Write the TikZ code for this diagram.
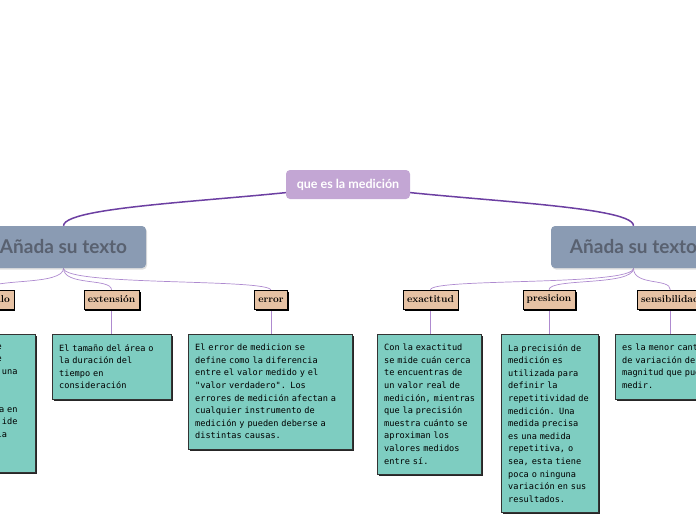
\documentclass[tikz,border=0pt]{standalone}
\usepackage{fontspec}
\newfontfamily\latofont{Lato}
\newfontfamily\pixfont{DejaVu Sans Mono}
\usepackage{xcolor}
\usetikzlibrary{positioning,shadows,backgrounds}
\definecolor{rootfill}{HTML}{C3A6D4}
\definecolor{topicfill}{HTML}{8A9BB3}
\definecolor{topictext}{HTML}{596170}
\definecolor{tagfill}{HTML}{E6C2A4}
\definecolor{notefill}{HTML}{7ECDC1}
\definecolor{trunkcol}{HTML}{6C3FA2}
\definecolor{linkcol}{HTML}{AE8ACF}
\newcommand\notefont{\pixfont\fontsize{8.6}{12.6}\selectfont\hyphenpenalty=10000\relax}

\begin{document}
\begin{tikzpicture}[x=1pt, y=-1pt,
  root/.style={fill=rootfill, rounded corners=4pt, minimum width=124pt,
               minimum height=29pt, text=white,
               font=\latofont\bfseries\fontsize{12.5}{14}\selectfont},
  topic/.style={fill=topicfill, rounded corners=4pt, minimum width=165pt,
                minimum height=42pt, text=topictext,
                font=\latofont\bfseries\fontsize{19}{21}\selectfont,
                drop shadow={shadow xshift=1pt, shadow yshift=-1.5pt, opacity=.25}},
  tag/.style={draw=black, fill=tagfill, minimum height=19pt, inner xsep=4pt,
              font=\bfseries\fontsize{10}{12}\selectfont,
              drop shadow={shadow xshift=1.5pt, shadow yshift=-1.5pt, opacity=1, fill=black}},
  note/.style={draw=black!80, fill=notefill, anchor=north west, align=left,
               inner xsep=7pt, inner ysep=10pt, font=\notefont,
               drop shadow={shadow xshift=2pt, shadow yshift=-2pt, opacity=1, fill=black!85}},
  trunk/.style={draw=trunkcol, line width=1.5pt},
  link/.style={draw=linkcol, line width=0.7pt}]
  \useasboundingbox (0,0) rectangle (696,520);
  \clip (0,0) rectangle (696,520);

  % root and the two topics
  \node[root] (root) at (348,184.5) {que es la medición};
  \node[topic] (topL) at (63.5,247) {Añada su texto};
  \node[topic] (topR) at (633.5,247) {Añada su texto};

  % subtopics, left
  \node[tag, anchor=east] (inter) at (14,299.5) {intervalo};
  \node[tag] (ext) at (111.5,299.5) {extensión};
  \node[tag] (err) at (271,300) {error};
  % subtopics, right
  \node[tag] (exa) at (430.5,299.5) {exactitud};
  \node[tag] (pre) at (549,299.5) {presicion};
  \node[tag, anchor=west] (sen) at (637,299.5) {sensibilidad};

  % notes
  \node[note, anchor=north east, align=right, text width=150pt] (interNote) at (35,334)
    {e\hphantom{xxxxx}\\e\hphantom{xxxxx}\\una\hphantom{xx}\\\mbox{}\\\mbox{}\\
     a en\hphantom{xx}\\ide\hphantom{xx}\\ia\hphantom{xxxx}\\\mbox{}\\\mbox{}};
  \node[note, text width=105pt] (extNote) at (52,334)
    {El tamaño del área o\\la duración del\\tiempo en\\consideración};
  \node[note, text width=150pt] (errNote) at (188,334)
    {El error de medicion se\\define como la diferencia\\entre el valor medido y el\\
     "valor verdadero". Los\\errores de medición afectan a\\cualquier instrumento de\\
     medición y pueden deberse a\\distintas causas.};
  \node[note, text width=90pt] (exaNote) at (377,334)
    {Con la exactitud\\se mide cuán cerca\\te encuentras de\\un valor real de\\
     medición,~mientras\\que la precisión\\muestra cuánto se\\aproximan los\\
     valores medidos\\entre sí.};
  \node[note, text width=83pt] (preNote) at (501,334)
    {La precisión de\\medición es\\utilizada para\\definir la\\repetitividad de\\
     medición. Una\\medida precisa\\es una medida\\repetitiva, o\\sea, esta tiene\\
     poca o ninguna\\variación en sus\\resultados.};
  \node[note, text width=104pt] (senNote) at (615,334)
    {es la menor cantidad\\de variación de la\\magnitud que puede\\medir.};

  \begin{pgfonlayer}{background}
    \draw[trunk] (root.center) .. controls (262,200) and (64,204) .. (topL.north);
    \draw[trunk] (root.center) .. controls (434,200) and (634,204) .. (topR.north);
    \foreach \t in {inter,ext,err}
      \draw[link] (topL.south) .. controls +(0,18) and +(0,-12) .. (\t.north);
    \foreach \t in {exa,pre,sen}
      \draw[link] (topR.south) .. controls +(0,18) and +(0,-12) .. (\t.north);
    \foreach \t in {inter,ext,err,exa,pre,sen}
      \draw[link] (\t.south) -- (\t.south |- \t Note.north);
  \end{pgfonlayer}
\end{tikzpicture}
\end{document}
